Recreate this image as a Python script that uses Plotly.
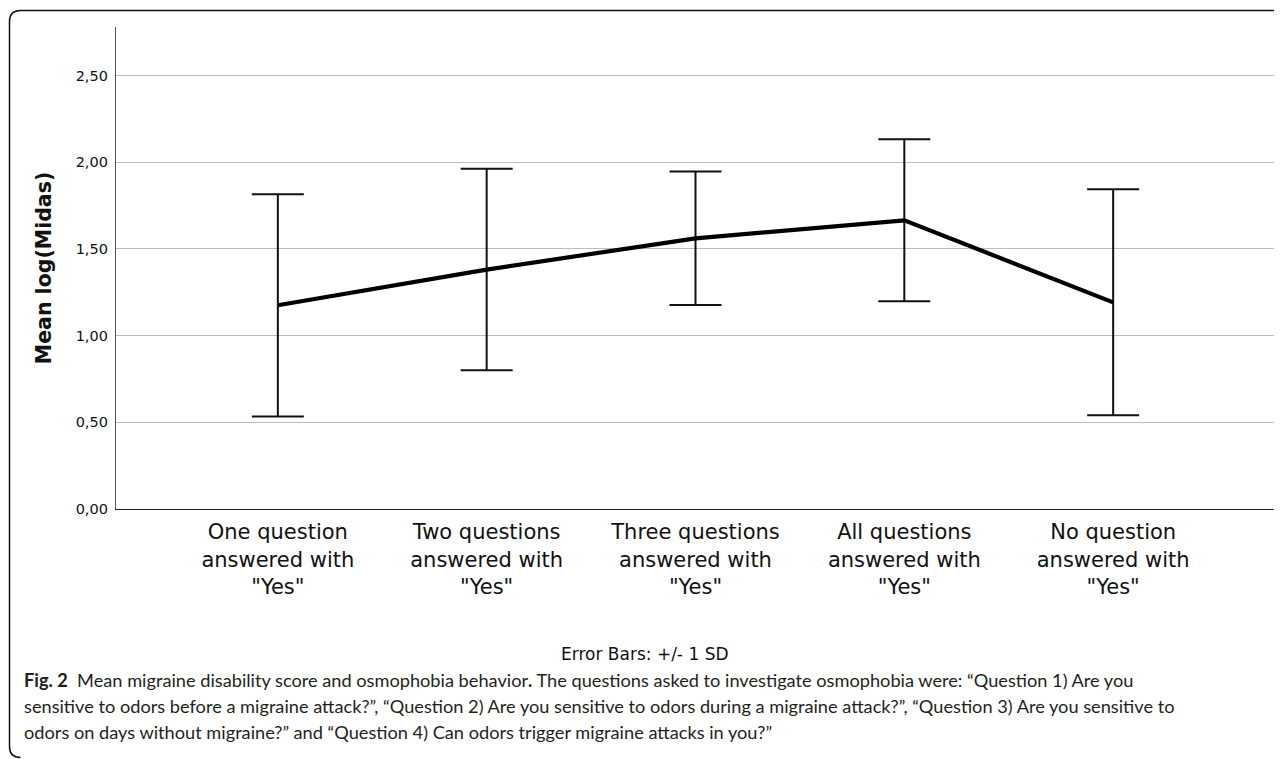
import plotly.graph_objects as go

categories = ['One question<br>answered with<br>"Yes"',
              'Two questions<br>answered with<br>"Yes"',
              'Three questions<br>answered with<br>"Yes"',
              'All questions<br>answered with<br>"Yes"',
              'No question<br>answered with<br>"Yes"']
mean_log_midas = [1.175, 1.381, 1.561, 1.665, 1.192]
sd_log_midas = [0.641, 0.581, 0.385, 0.467, 0.652]
y_ticks = [0.0, 0.5, 1.0, 1.5, 2.0, 2.5]

# the page body has an 8px default margin; work in reference pixels and shift
OFF = 8
W, H = 1282 - OFF, 759 - OFF
L, R, T = 116 - OFF, 7, 27 - OFF
PLOT_BOTTOM = 509.4 - OFF
B = H - PLOT_BOTTOM
PW, PH = W - L - R, PLOT_BOTTOM - T


def px(x):
    return (x - OFF - L) / PW


def py(y):
    return (PLOT_BOTTOM - (y - OFF)) / PH


fig = go.Figure()
fig.add_trace(go.Scatter(
    x=list(range(len(categories))), y=mean_log_midas, mode="lines",
    line=dict(color="black", width=4.2),
    error_y=dict(type="data", array=sd_log_midas, visible=True,
                 color="#111111", thickness=2, width=26),
    showlegend=False, hoverinfo="skip"))

chart_font = "DejaVu Sans"

fig.update_layout(
    width=W, height=H,
    margin=dict(l=L, r=R, t=T, b=B, pad=0),
    paper_bgcolor="white", plot_bgcolor="white",
    separators=",.",
    xaxis=dict(range=[-0.775, 4.775], tickvals=list(range(len(categories))),
               ticktext=categories, showgrid=False, zeroline=False,
               showline=True, linecolor="#222222", linewidth=1.3,
               ticks="", ticklabelstandoff=4,
               tickfont=dict(family=chart_font, size=21, color="#111111"),
               fixedrange=True),
    yaxis=dict(range=[0, 2.78], tickvals=y_ticks, tickformat=".2f",
               showgrid=True, gridcolor="#bdbdbd", gridwidth=1.3,
               zeroline=False, showline=True, linecolor="#555555", linewidth=1.3,
               ticks="", ticklabelstandoff=4,
               tickfont=dict(family=chart_font, size=14.5, color="#111111"),
               title=dict(text="<b>Mean log(Midas)</b>", standoff=18,
                          font=dict(family=chart_font, size=20.5, color="#111111")),
               fixedrange=True),
)

# rounded figure frame (top + left edges)
r = 11
path = (f"M {px(1290)},{py(10.5)} L {px(9.5 + r)},{py(10.5)} "
        f"Q {px(9.5)},{py(10.5)} {px(9.5)},{py(10.5 + r)} "
        f"L {px(9.5)},{py(758 - r)} Q {px(9.5)},{py(758)} {px(9.5 + r)},{py(758)}")
fig.add_shape(type="path", path=path, xref="paper", yref="paper",
              line=dict(color="#111111", width=1.5))

fig.add_annotation(text="Error Bars: +/- 1 SD", xref="paper", yref="paper",
                   x=px(645), y=py(655), xanchor="center", yanchor="middle",
                   showarrow=False,
                   font=dict(family=chart_font, size=17, color="#111111"))

cap_font = dict(family="Lato", size=18.2, color="#231f20")
caption_lines = [
    "<b>Fig. 2</b>  Mean migraine disability score and osmophobia behavior<b>.</b> "
    "The questions asked to investigate osmophobia were: “Question 1) Are you",
    "sensitive to odors before a migraine attack?”, “Question 2) Are you sensitive to "
    "odors during a migraine attack?”, “Question 3) Are you sensitive to",
    "odors on days without migraine?” and “Question 4) Can odors trigger migraine attacks in you?”",
]
for i, line in enumerate(caption_lines):
    fig.add_annotation(text=line, xref="paper", yref="paper",
                       x=px(22), y=py(681 + 26 * i), xanchor="left", yanchor="middle",
                       showarrow=False, font=cap_font)

fig.write_html("out.html")
